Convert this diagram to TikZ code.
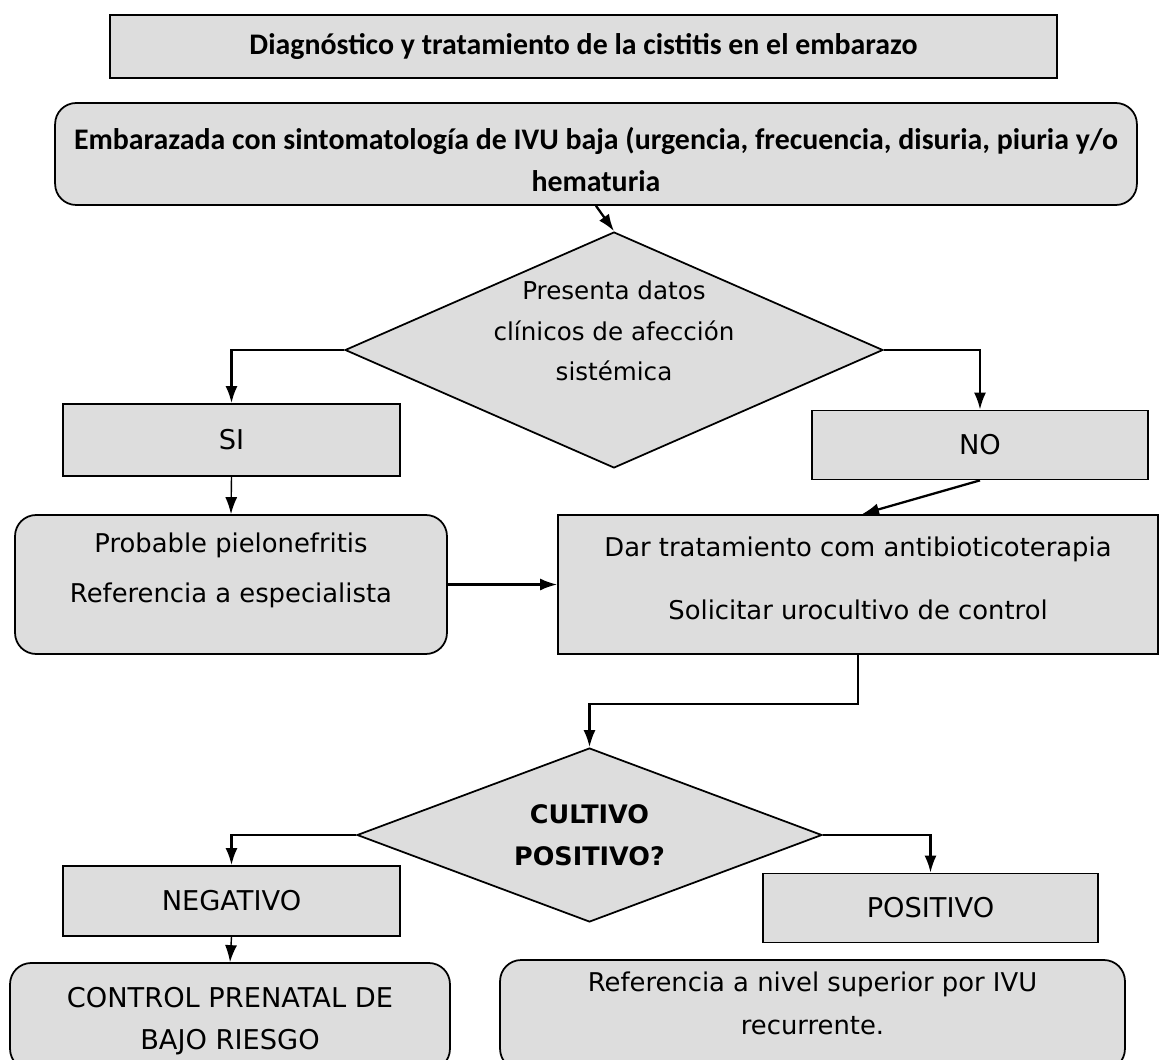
\documentclass[tikz,border=0pt]{standalone}
\usepackage{fontspec}
\newfontfamily\tahoma{DejaVu Sans}
\newfontfamily\calib{Carlito}
\usetikzlibrary{shapes.geometric,arrows.meta,positioning,calc}
\definecolor{boxgray}{RGB}{221,221,221}
\tikzset{
  box/.style={draw,line width=1pt,fill=boxgray,align=center,inner sep=0pt},
  roundbox/.style={box,rounded corners=12pt},
  decision/.style={draw,line width=1pt,fill=boxgray,diamond,inner sep=0pt},
  arr/.style={line width=1.3pt,-{Latex[length=0.34cm,width=0.24cm]}},
  thinarr/.style={line width=0.8pt,-{Latex[length=0.34cm,width=0.24cm]}},
  tfont/.style={font=\tahoma\fontsize{14.7}{#1}\selectfont},
  capfont/.style={font=\tahoma\fontsize{15.5}{#1}\selectfont},
  cfont/.style={font=\calib\bfseries\fontsize{17}{#1}\selectfont},
}

\begin{document}
\begin{tikzpicture}[x=0.02cm,y=-0.02cm]
\useasboundingbox (0,0) rectangle (1159,1060);

% title and start
\node[box,cfont=20pt,minimum width=18.94cm,minimum height=1.26cm] (title) at (583.5,46.5)
  {Diagnóstico y tratamiento de la cistitis en el embarazo};
\node[roundbox,cfont=23.9pt,minimum width=21.64cm,minimum height=2.04cm,
      text height=43pt] (sintoma) at (596,154)
  {Embarazada con sintomatología de IVU baja (urgencia, frecuencia, disuria, piuria y/o\\ hematuria};

% first decision
\node[decision,aspect=2.28,minimum width=10.76cm,minimum height=4.72cm] (dec1) at (614,350) {};
\node[align=center,font=\tahoma\fontsize{14}{23.2pt}\selectfont] (dec1txt) at (614,331)
  {Presenta datos\\ clínicos de afección\\ sistémica};

\node[box,capfont=18pt,minimum width=6.74cm,minimum height=1.44cm] (si) at (231.5,440) {SI};
\node[box,capfont=18pt,minimum width=6.72cm,minimum height=1.38cm] (no) at (980,445) {NO};

\node[roundbox,tfont=28.4pt,minimum width=8.64cm,minimum height=2.78cm,
      text depth=19pt] (pielo) at (231,584.5)
  {Probable pielonefritis\\ Referencia a especialista};
\node[box,tfont=35.8pt,minimum width=12cm,minimum height=2.78cm,
      text depth=7pt] (trat) at (858,584.5)
  {Dar tratamiento com antibioticoterapia\\ Solicitar urocultivo de control};

% second decision
\node[decision,aspect=2.67,minimum width=9.3cm,minimum height=3.48cm,align=center,
      font=\tahoma\bfseries\fontsize{14.5}{23.9pt}\selectfont] (dec2) at (589.5,835)
  {CULTIVO\\ POSITIVO?};

\node[box,capfont=18pt,minimum width=6.74cm,minimum height=1.4cm] (neg) at (231.5,901) {NEGATIVO};
\node[box,capfont=18pt,minimum width=6.7cm,minimum height=1.38cm] (pos) at (930.5,908) {POSITIVO};

\node[roundbox,capfont=23.9pt,minimum width=8.8cm,minimum height=2.14cm,
      text height=41pt] (control) at (230,1016.5)
  {CONTROL PRENATAL DE\\ BAJO RIESGO};
\node[roundbox,tfont=24.4pt,minimum width=12.5cm,minimum height=2.2cm,
      text depth=13pt] (refer) at (812.5,1015)
  {Referencia a nivel superior por IVU\\ recurrente.};

% connectors
\draw[arr] (sintoma.south) -- (dec1.north);
\draw[arr] (dec1.west) -| (si.north);
\draw[arr] (dec1.east) -| (no.north);
\draw[thinarr] (si.south) -- (pielo.north);
\draw[arr] (pielo.east) -- (trat.west);
\draw[arr] (no.south) -- ($(trat.north)+(4,0)$);
\draw[arr] (trat.south) -- ++(0,49) -| (dec2.north);
\draw[arr] (dec2.west) -| (neg.north);
\draw[arr] (dec2.east) -| (pos.north);
\draw[thinarr] (neg.south) -- (control.north);

\end{tikzpicture}
\end{document}
